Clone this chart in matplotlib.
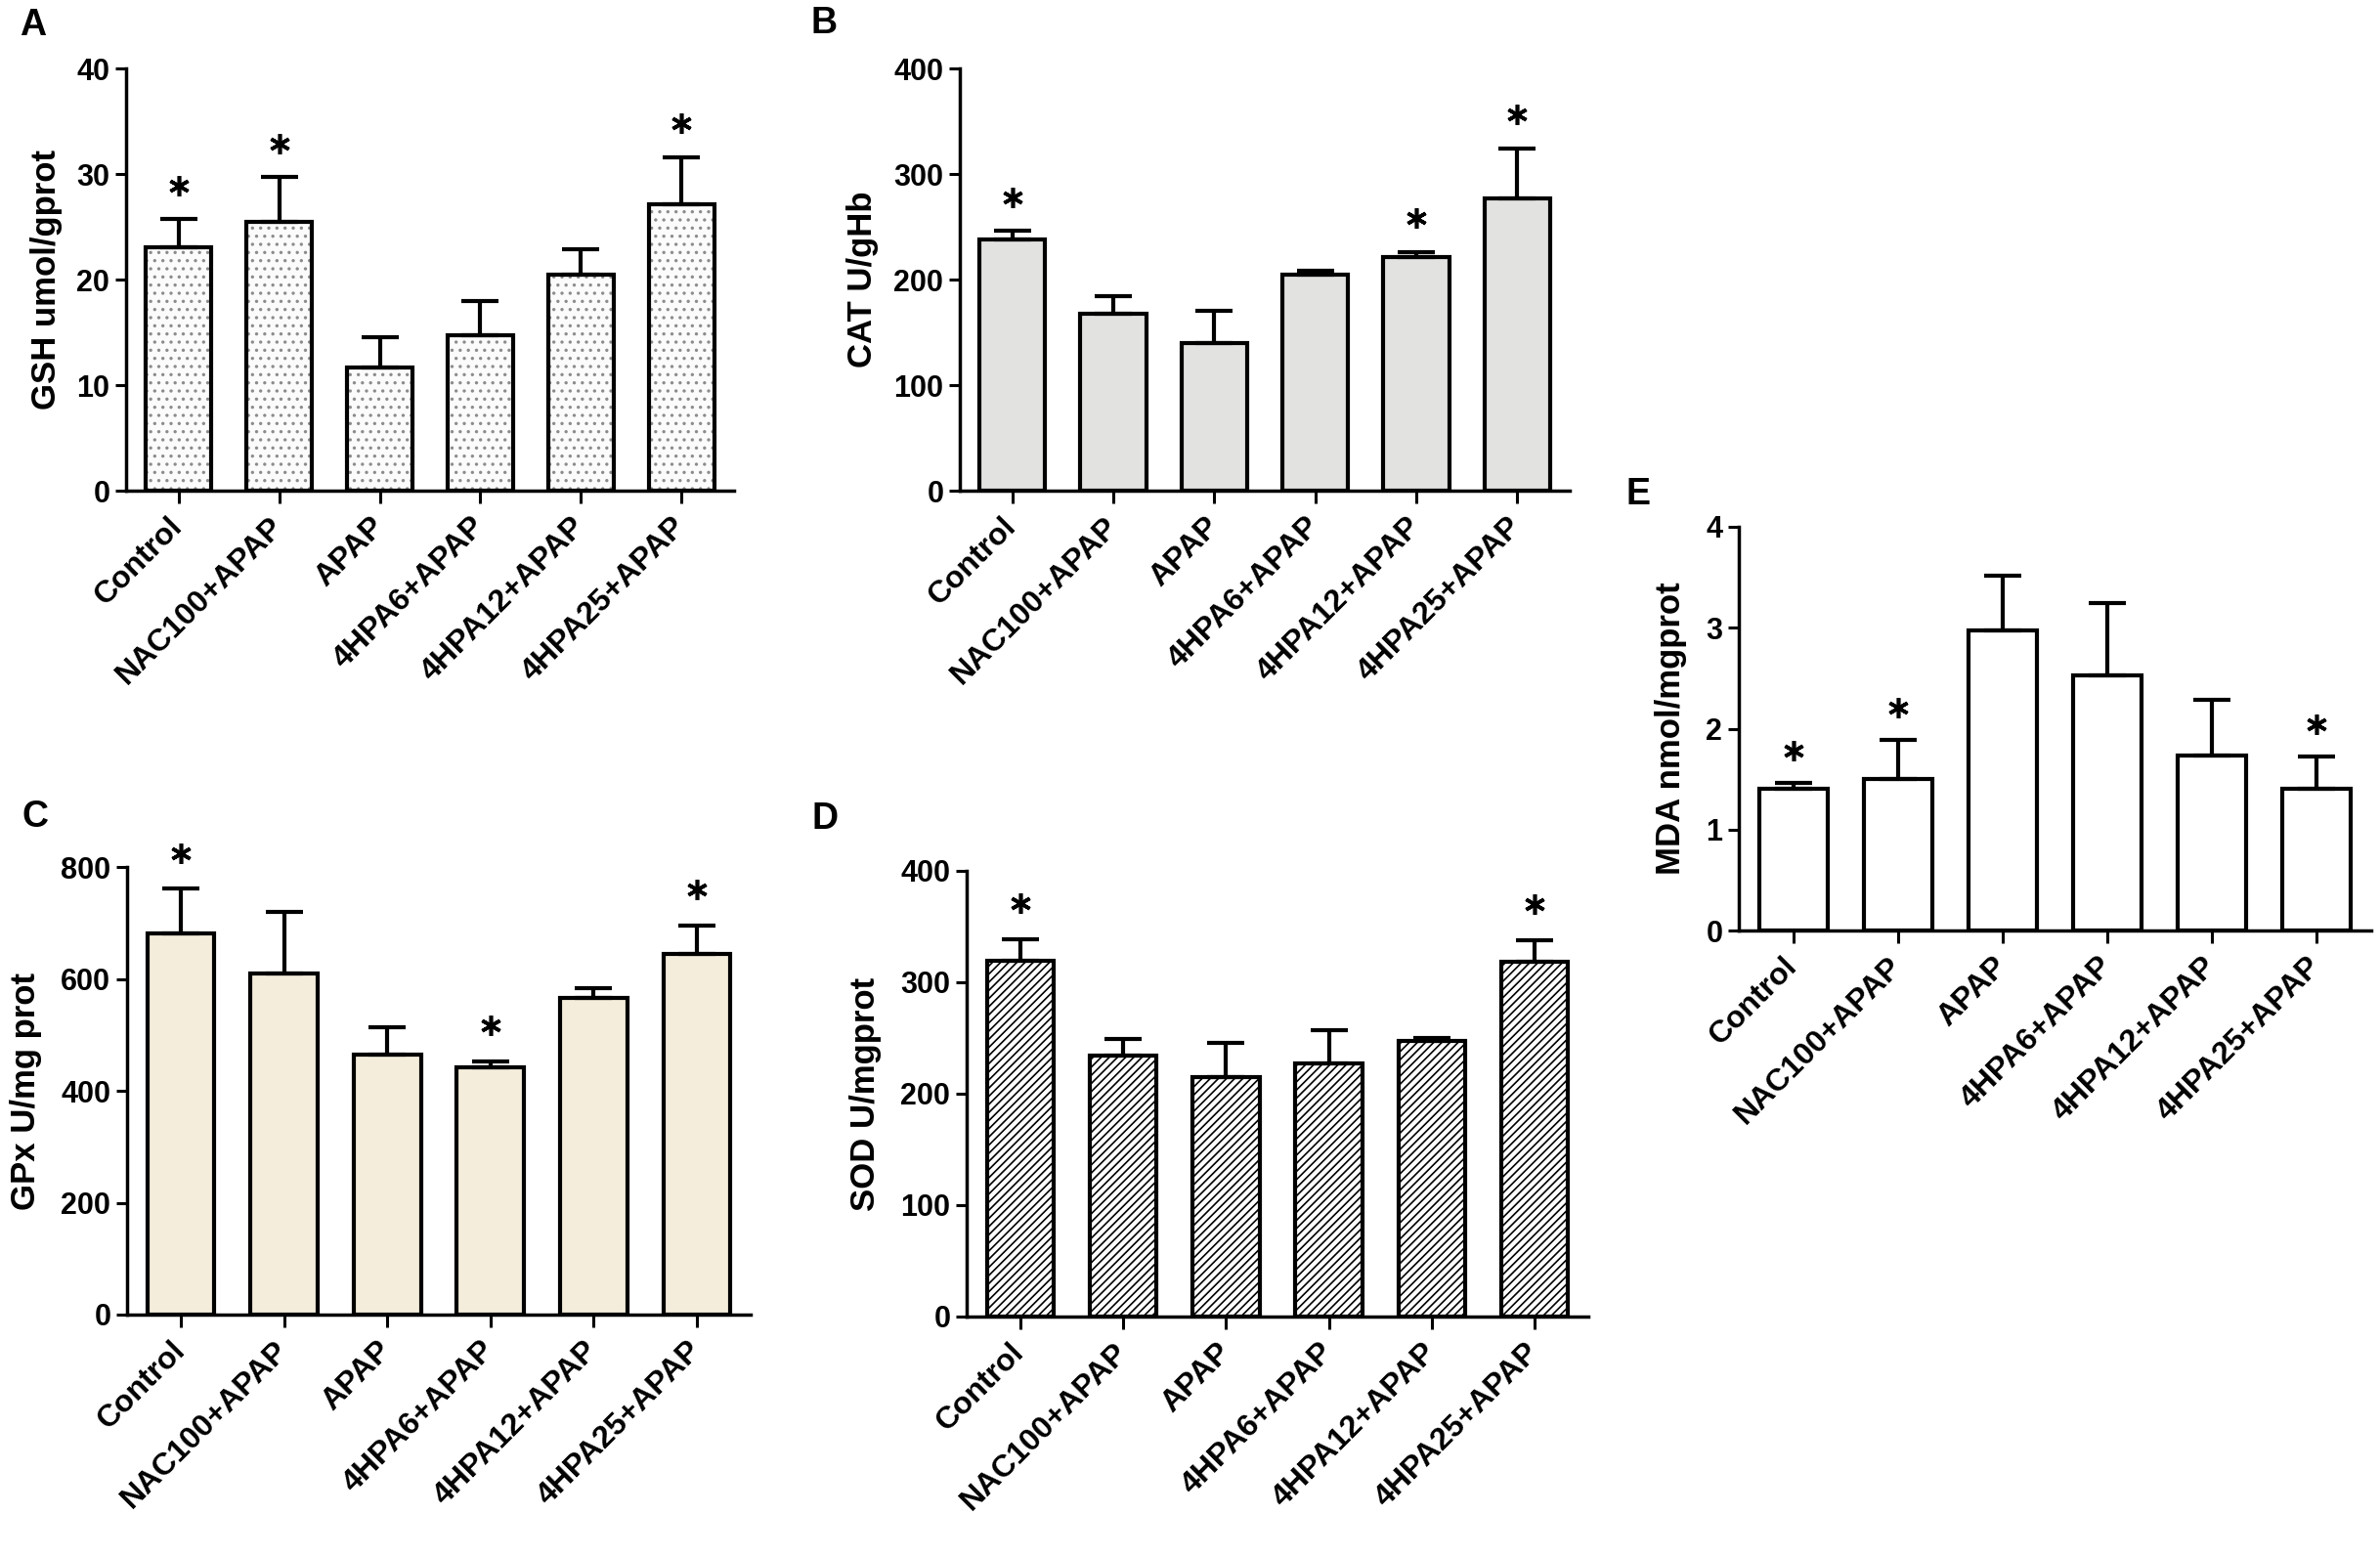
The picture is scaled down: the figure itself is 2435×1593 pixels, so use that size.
import matplotlib
matplotlib.use('Agg')
import matplotlib.pyplot as plt
import numpy as np

plt.rcParams['font.family'] = ['Liberation Sans', 'DejaVu Sans']
plt.rcParams['font.weight'] = 'bold'
plt.rcParams['hatch.linewidth'] = 1.2

groups = ['Control', 'NAC100+APAP', 'APAP', '4HPA6+APAP', '4HPA12+APAP', '4HPA25+APAP']

gsh_mean = [23.1, 25.5, 11.7, 14.7, 20.5, 27.1]
gsh_err = [2.6, 4.2, 2.8, 3.3, 2.4, 4.5]
gsh_sig = [1, 1, 0, 0, 0, 1]

cat_mean = [237.6, 168, 139.7, 204.5, 221, 276.4]
cat_err = [8.3, 16.7, 30.9, 3.4, 5, 48]
cat_sig = [1, 0, 0, 0, 1, 1]

gpx_mean = [681, 610, 465, 442, 566, 645]
gpx_err = [80, 110, 48, 11, 17, 51]
gpx_sig = [1, 0, 0, 1, 0, 1]

sod_mean = [319.7, 234.6, 214.6, 227, 247.5, 318.8]
sod_err = [19.3, 14.4, 31, 30, 2.2, 19.2]
sod_sig = [1, 0, 0, 0, 0, 1]

mda_mean = [1.40, 1.50, 2.97, 2.53, 1.73, 1.40]
mda_err = [0.06, 0.39, 0.55, 0.71, 0.56, 0.32]
mda_sig = [1, 1, 0, 0, 0, 1]

W, H = 2435, 1593
fig = plt.figure(figsize=(W / 100, H / 100), dpi=100)


def px_axes(left, right, top, bottom):
    return fig.add_axes([left / W, 1 - bottom / H, (right - left) / W, (bottom - top) / H])


def panel(ax, means, errs, sig, ymax, step, ylabel, label_x, fill, hatch=None, hatch_color=None):
    x = np.arange(len(groups))
    if hatch:
        ax.bar(x, means, 0.65, color=fill, edgecolor=hatch_color, hatch=hatch, linewidth=0, zorder=1)
    else:
        ax.bar(x, means, 0.65, color=fill, linewidth=0, zorder=1)
    ax.bar(x, means, 0.65, fill=False, edgecolor='black', linewidth=3, zorder=3)
    ax.errorbar(x, means, yerr=[np.zeros(len(x)), errs], fmt='none', ecolor='black',
                elinewidth=3, capsize=14, capthick=3, zorder=2)
    tops = np.array(means) + np.array(errs)
    for i, s in enumerate(sig):
        if s:
            ax.plot(x[i], tops[i] + 0.08 * ymax, marker=(6, 2, 0), ms=15, mew=2.6,
                    color='black', clip_on=False, zorder=4)
    ax.set_xlim(-0.52, 5.52)
    ax.set_ylim(0, ymax)
    ax.set_yticks(np.arange(0, ymax + step / 2, step))
    ax.set_xticks(x)
    ax.set_xticklabels(groups, rotation=45, ha='right', va='center', rotation_mode='anchor',
                       fontsize=23)
    for sp in ['top', 'right']:
        ax.spines[sp].set_visible(False)
    for sp in ['left', 'bottom']:
        ax.spines[sp].set_linewidth(2.5)
    ax.tick_params(axis='y', length=8, width=2.2, pad=4, labelsize=22)
    ax.tick_params(axis='x', length=9, width=2.2, pad=14)
    ax.set_ylabel(ylabel, fontsize=25, fontweight='bold')
    bb = ax.get_position()
    # label_x is the right edge of the rotated label, in pixels
    ax.yaxis.set_label_coords((label_x / W - bb.x0) / bb.width, 0.5)


axA = px_axes(129, 751, 70, 502)
panel(axA, gsh_mean, gsh_err, gsh_sig, 40, 10, 'GSH umol/gprot', 64,
      '#fbfbfb', '..', '#8c8c8c')
axB = px_axes(982, 1606, 70, 502)
panel(axB, cat_mean, cat_err, cat_sig, 400, 100, 'CAT U/gHb', 899, '#e2e3e1')
axC = px_axes(130, 768, 887, 1345)
panel(axC, gpx_mean, gpx_err, gpx_sig, 800, 200, 'GPx U/mg prot', 43, '#f4eddb')
axD = px_axes(989, 1625, 891, 1347)
panel(axD, sod_mean, sod_err, sod_sig, 400, 100, 'SOD U/mgprot', 902,
      'white', '////', 'black')
axE = px_axes(1779, 2426, 539, 952)
panel(axE, mda_mean, mda_err, mda_sig, 4, 1, 'MDA nmol/mgprot', 1726, 'white')

for lab, lx, ly in [('A', 20, 8), ('B', 830, 6), ('C', 23, 818), ('D', 831, 820), ('E', 1664, 488)]:
    fig.text(lx / W, 1 - ly / H, lab, fontsize=27, fontweight='bold', ha='left', va='top')

fig.savefig('out.png', dpi=100)
